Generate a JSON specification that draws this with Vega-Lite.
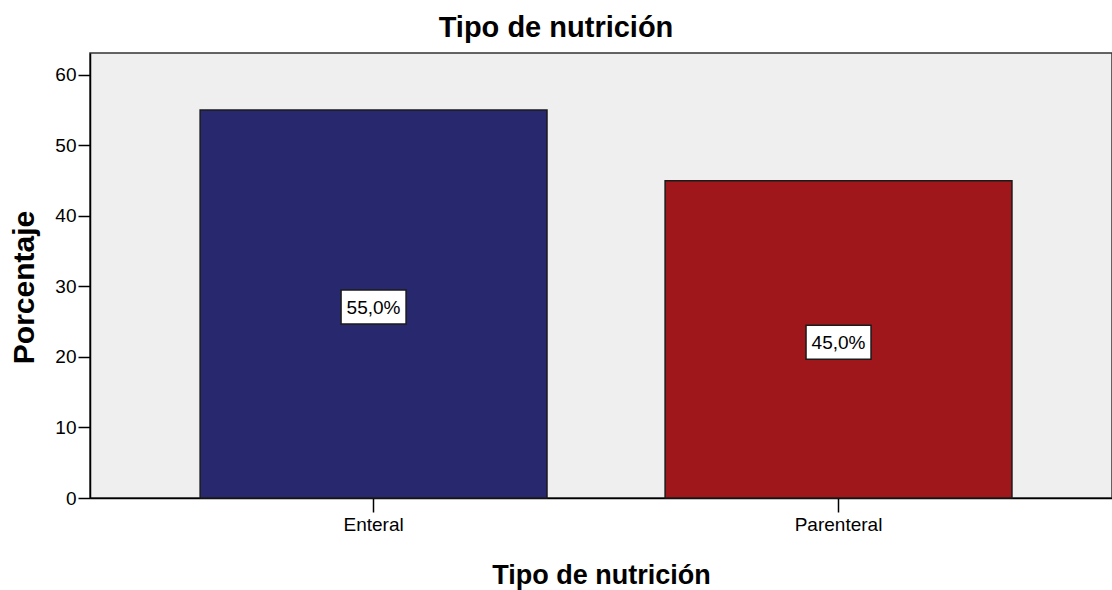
{
  "$schema": "https://vega.github.io/schema/vega-lite/v6.json",
  "autosize": {"type": "none"},
  "padding": {"left": 90, "top": 53, "right": 0, "bottom": 92},
  "width": 1022,
  "height": 445,
  "background": "white",
  "config": {
    "font": "Liberation Sans",
    "view": {"stroke": "#333333", "strokeWidth": 1.5, "fill": "#EFEFEF"}
  },
  "title": {
    "text": "Tipo de nutrición",
    "font": "Liberation Sans",
    "fontSize": 29,
    "fontWeight": "bold",
    "color": "black",
    "anchor": "middle",
    "frame": "group",
    "dx": -45,
    "dy": 29,
    "baseline": "alphabetic",
    "offset": 16
  },
  "data": {
    "values": [
      {"tipo": "Enteral", "porcentaje": 55.0, "etiqueta": "55,0%"},
      {"tipo": "Parenteral", "porcentaje": 45.0, "etiqueta": "45,0%"}
    ]
  },
  "encoding": {
    "x": {
      "field": "tipo",
      "type": "nominal",
      "sort": ["Enteral", "Parenteral"],
      "scale": {"paddingInner": 0.254, "paddingOuter": 0.226, "align": 0.524},
      "axis": {
        "title": "Tipo de nutrición",
        "titleFont": "Liberation Sans",
        "titleFontSize": 27,
        "titleFontWeight": "bold",
        "titleColor": "black",
        "titleBaseline": "alphabetic",
        "titleY": 85,
        "labelAngle": 0,
        "labelFont": "Liberation Sans",
        "labelFontSize": 19,
        "labelColor": "black",
        "labelPadding": 3,
        "tickSize": 14,
        "tickColor": "black",
        "tickWidth": 1.5,
        "domainColor": "black",
        "domainWidth": 1.5,
        "grid": false
      }
    }
  },
  "layer": [
    {
      "mark": {"type": "bar", "stroke": "#1a1a1a", "strokeWidth": 1.5},
      "encoding": {
        "y": {
          "field": "porcentaje",
          "type": "quantitative",
          "scale": {"domain": [0, 63.1], "nice": false},
          "axis": {
            "title": "Porcentaje",
            "titleFont": "Liberation Sans",
            "titleFontSize": 30,
            "titleFontWeight": "bold",
            "titleColor": "black",
            "titleBaseline": "bottom",
            "titleX": -51,
            "titleY": 234,
            "values": [0, 10, 20, 30, 40, 50, 60],
            "labelFont": "Liberation Sans",
            "labelFontSize": 19,
            "labelColor": "black",
            "labelPadding": 2,
            "tickSize": 12,
            "tickColor": "black",
            "tickWidth": 1.5,
            "domainColor": "black",
            "domainWidth": 1.5,
            "grid": false
          }
        },
        "color": {
          "field": "tipo",
          "type": "nominal",
          "scale": {"domain": ["Enteral", "Parenteral"], "range": ["#28286F", "#A0171B"]},
          "legend": null
        }
      }
    },
    {
      "encoding": {
        "y": {
          "field": "porcentaje",
          "type": "quantitative",
          "scale": {"domain": [0, 126.2], "nice": false},
          "axis": null
        }
      },
      "layer": [
        {
          "mark": {
            "type": "point",
            "shape": "M-1,-0.523H1V0.523H-1Z",
            "size": 4225,
            "filled": true,
            "fill": "white",
            "opacity": 1,
            "stroke": "#1a1a1a",
            "strokeWidth": 1.5,
            "yOffset": 3
          }
        },
        {
          "mark": {
            "type": "text",
            "font": "Liberation Sans",
            "fontSize": 19,
            "color": "black",
            "align": "center",
            "baseline": "middle",
            "yOffset": 4
          },
          "encoding": {"text": {"field": "etiqueta", "type": "nominal"}}
        }
      ]
    }
  ],
  "resolve": {"scale": {"y": "independent"}}
}
